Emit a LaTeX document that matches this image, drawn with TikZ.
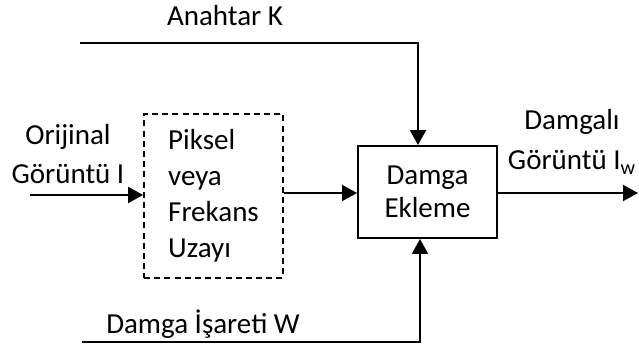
\documentclass[tikz,border=0pt]{standalone}
\usepackage{fontspec}
\setmainfont{Carlito}
\usetikzlibrary{arrows.meta}

\begin{document}
\begin{tikzpicture}[
    x=0.02cm, y=-0.02cm,
    font=\fontsize{16.5}{20.5}\selectfont,
    blok/.style={draw, line width=1.1pt, minimum width=2.78cm, minimum height=1.84cm, inner sep=0pt, align=center},
    uzaybox/.style={draw, line width=1pt, dash pattern=on 3.4pt off 2.4pt, minimum width=2.78cm, minimum height=3.28cm, inner sep=0pt, align=left},
    arr/.style={-{Triangle[length=0.3cm, width=0.32cm]}, line width=1.1pt},
    etiket/.style={inner sep=0pt, align=center},
  ]
  \useasboundingbox (0,0) rectangle (639,347);
  % kutular
  \node[uzaybox] (uzay) at (213.5,196) {Piksel\\veya\\Frekans\\Uzayı};
  \node[blok] (ekle) at (427.5,192) {Damga\\[-1.5pt]Ekleme};
  % giriş ve çıkış uçları
  \coordinate (giris)   at (30,195);
  \coordinate (anahtar) at (80,43);
  \coordinate (isaret)  at (82,342);
  \coordinate (cikis)   at (638,193);
  % etiketler
  \node[etiket] (L-giris)   at (68,154)  {Orijinal\\[2.2pt]Görüntü I};
  \node[etiket] (L-anahtar) at (225,16)  {Anahtar K};
  \node[etiket] (L-isaret)  at (203,324) {Damga İşareti W};
  \node[etiket] (L-cikis)   at (572,142) {Damgalı\\[2.5pt]Görüntü I\textsubscript{w}};
  % bağlantılar
  \draw[arr] (giris) -- (giris -| uzay.west);
  \draw[arr] (uzay.east |- cikis) -- (ekle.west |- cikis);
  \draw[arr] (anahtar) -| ([xshift=-0.19cm]ekle.north);
  \draw[arr] (isaret) -| ([xshift=-0.15cm]ekle.south);
  \draw[arr] (ekle.east |- cikis) -- (cikis);
\end{tikzpicture}
\end{document}
